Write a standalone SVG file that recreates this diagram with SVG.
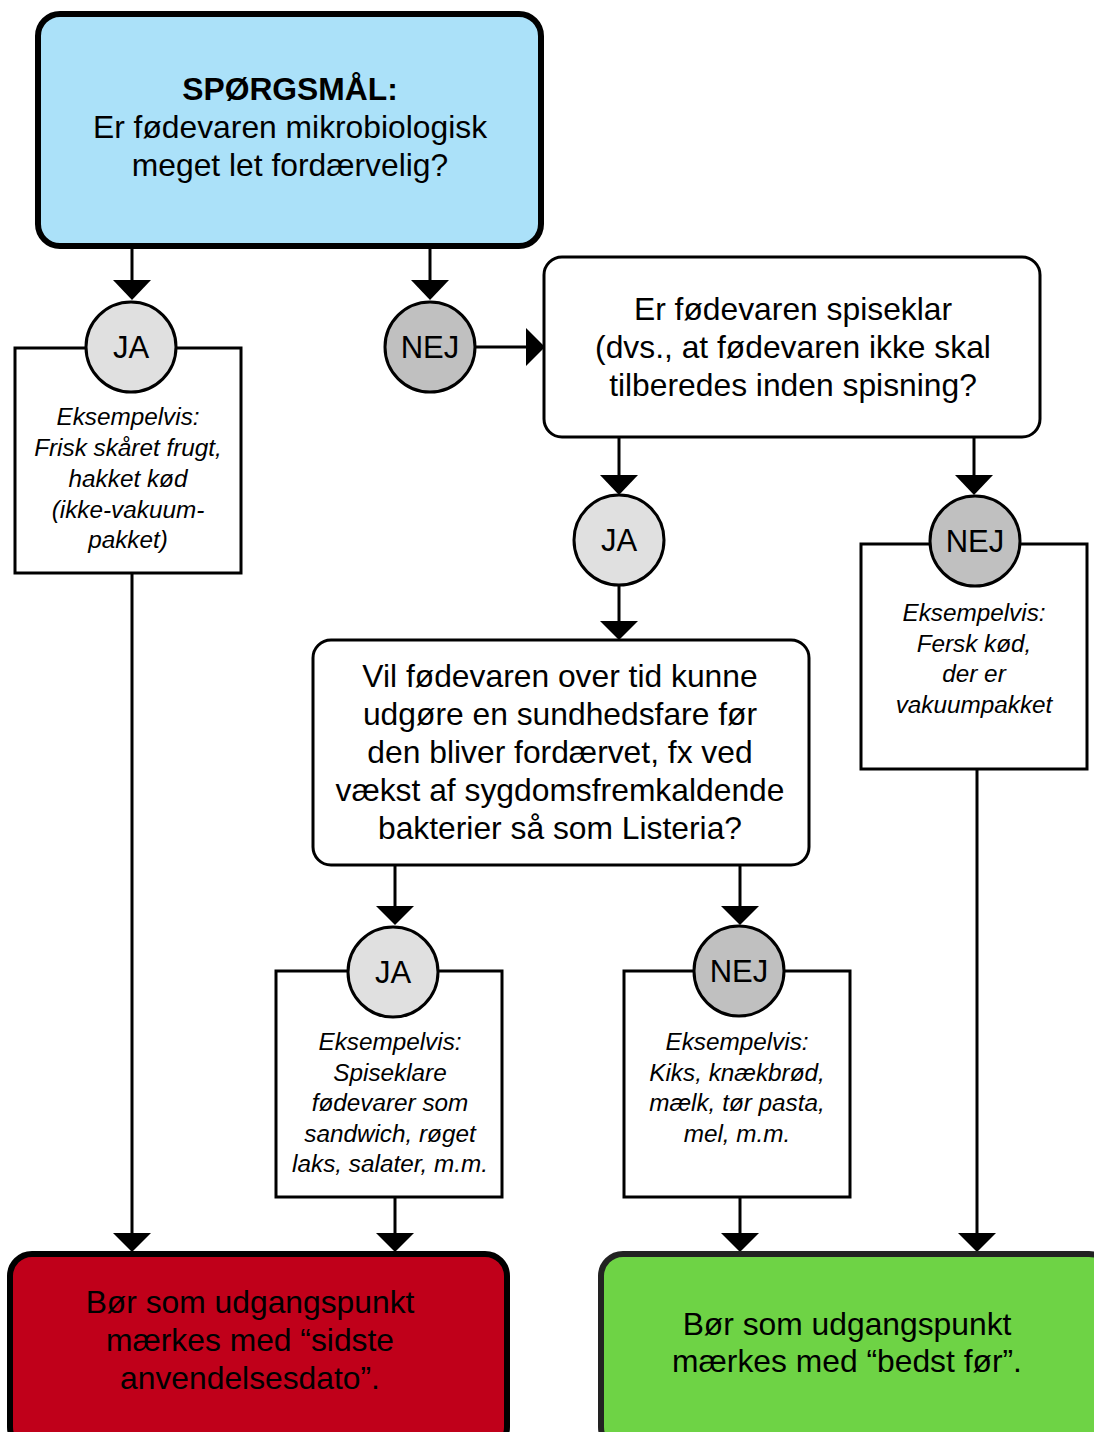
<svg xmlns="http://www.w3.org/2000/svg" width="1094" height="1432" viewBox="0 0 1094 1432">
<style>
text{font-family:"Liberation Sans",Arial,sans-serif;fill:#000;text-anchor:middle}
.q{font-size:31.8px}
.ex{font-size:24.3px;font-style:italic}
.lbl{font-size:31px}
.box{fill:#fff;stroke:#000;stroke-width:3}
.ln{stroke:#000;stroke-width:3;fill:none}
.ja{fill:#e0e0e0;stroke:#000;stroke-width:3}
.nej{fill:#c0c0c0;stroke:#000;stroke-width:3}
</style>
<rect width="1094" height="1432" fill="#fff"/>
<g id="connectors">
<path class="ln" d="M132,246 V280"/>
<path d="M113,280 H151 L132,300 Z"/>
<path class="ln" d="M430,246 V280"/>
<path d="M411,280 H449 L430,300 Z"/>
<path class="ln" d="M475,347 H526"/>
<path d="M526,328 V366 L545,347 Z"/>
<path class="ln" d="M619,437 V475"/>
<path d="M600,475 H638 L619,495 Z"/>
<path class="ln" d="M619,585 V621"/>
<path d="M600,621 H638 L619,640 Z"/>
<path class="ln" d="M974,437 V475"/>
<path d="M955,475 H993 L974,495 Z"/>
<path class="ln" d="M395,865 V906"/>
<path d="M376,906 H414 L395,925 Z"/>
<path class="ln" d="M740,865 V906"/>
<path d="M721,906 H759 L740,925 Z"/>
<path class="ln" d="M132,573 V1233"/>
<path d="M113,1233 H151 L132,1252 Z"/>
<path class="ln" d="M395,1197 V1233"/>
<path d="M376,1233 H414 L395,1252 Z"/>
<path class="ln" d="M740,1197 V1233"/>
<path d="M721,1233 H759 L740,1252 Z"/>
<path class="ln" d="M977,769 V1233"/>
<path d="M958,1233 H996 L977,1252 Z"/>
</g>
<g id="question">
<rect x="38" y="14" width="503" height="232" rx="22" fill="#abe1f9" stroke="#000" stroke-width="6"/>
<text class="q" x="290" y="100" font-weight="bold">SPØRGSMÅL:</text>
<text class="q" x="290" y="138">Er fødevaren mikrobiologisk</text>
<text class="q" x="290" y="176">meget let fordærvelig?</text>
</g>
<g id="ex1">
<rect class="box" x="15" y="348" width="226" height="225"/>
<text class="ex" x="128" y="425">Eksempelvis:</text>
<text class="ex" x="128" y="456">Frisk skåret frugt,</text>
<text class="ex" x="128" y="487">hakket kød</text>
<text class="ex" x="128" y="518">(ikke-vakuum-</text>
<text class="ex" x="128" y="548">pakket)</text>
</g>
<g id="ja1">
<circle class="ja" cx="131" cy="347" r="45"/>
<text class="lbl" x="131" y="358">JA</text>
</g>
<g id="nej1">
<circle class="nej" cx="430" cy="347" r="45"/>
<text class="lbl" x="430" y="358">NEJ</text>
</g>
<g id="q2">
<rect class="box" x="544" y="257" width="496" height="180" rx="18"/>
<text class="q" x="793" y="320">Er fødevaren spiseklar</text>
<text class="q" x="793" y="358">(dvs., at fødevaren ikke skal</text>
<text class="q" x="793" y="396">tilberedes inden spisning?</text>
</g>
<g id="ja2">
<circle class="ja" cx="619" cy="540" r="45"/>
<text class="lbl" x="619" y="551">JA</text>
</g>
<g id="ex2">
<rect class="box" x="861" y="544" width="226" height="225"/>
<text class="ex" x="974" y="621">Eksempelvis:</text>
<text class="ex" x="974" y="652">Fersk kød,</text>
<text class="ex" x="974" y="682">der er</text>
<text class="ex" x="974" y="713">vakuumpakket</text>
</g>
<g id="nej2">
<circle class="nej" cx="975" cy="541" r="45"/>
<text class="lbl" x="975" y="552">NEJ</text>
</g>
<g id="q3">
<rect class="box" x="313" y="640" width="496" height="225" rx="18"/>
<text class="q" x="560" y="687">Vil fødevaren over tid kunne</text>
<text class="q" x="560" y="725">udgøre en sundhedsfare før</text>
<text class="q" x="560" y="763">den bliver fordærvet, fx ved</text>
<text class="q" x="560" y="801">vækst af sygdomsfremkaldende</text>
<text class="q" x="560" y="839">bakterier så som Listeria?</text>
</g>
<g id="ex3">
<rect class="box" x="276" y="971" width="226" height="226"/>
<text class="ex" x="390" y="1050">Eksempelvis:</text>
<text class="ex" x="390" y="1081">Spiseklare</text>
<text class="ex" x="390" y="1111">fødevarer som</text>
<text class="ex" x="390" y="1142">sandwich, røget</text>
<text class="ex" x="390" y="1172">laks, salater, m.m.</text>
</g>
<g id="ja3">
<circle class="ja" cx="393" cy="972" r="45"/>
<text class="lbl" x="393" y="983">JA</text>
</g>
<g id="ex4">
<rect class="box" x="624" y="971" width="226" height="226"/>
<text class="ex" x="737" y="1050">Eksempelvis:</text>
<text class="ex" x="737" y="1081">Kiks, knækbrød,</text>
<text class="ex" x="737" y="1111">mælk, tør pasta,</text>
<text class="ex" x="737" y="1142">mel, m.m.</text>
</g>
<g id="nej3">
<circle class="nej" cx="739" cy="971" r="45"/>
<text class="lbl" x="739" y="982">NEJ</text>
</g>
<g id="red">
<rect x="10" y="1254" width="497" height="195" rx="22" fill="#c0001a" stroke="#000" stroke-width="6"/>
<text class="q" x="250" y="1313">Bør som udgangspunkt</text>
<text class="q" x="250" y="1351">mærkes med “sidste</text>
<text class="q" x="250" y="1389">anvendelsesdato”.</text>
</g>
<g id="green">
<rect x="601" y="1254" width="510" height="195" rx="22" fill="#6ed345" stroke="#222" stroke-width="6"/>
<text class="q" x="847" y="1335">Bør som udgangspunkt</text>
<text class="q" x="847" y="1372">mærkes med “bedst før”.</text>
</g>
</svg>
